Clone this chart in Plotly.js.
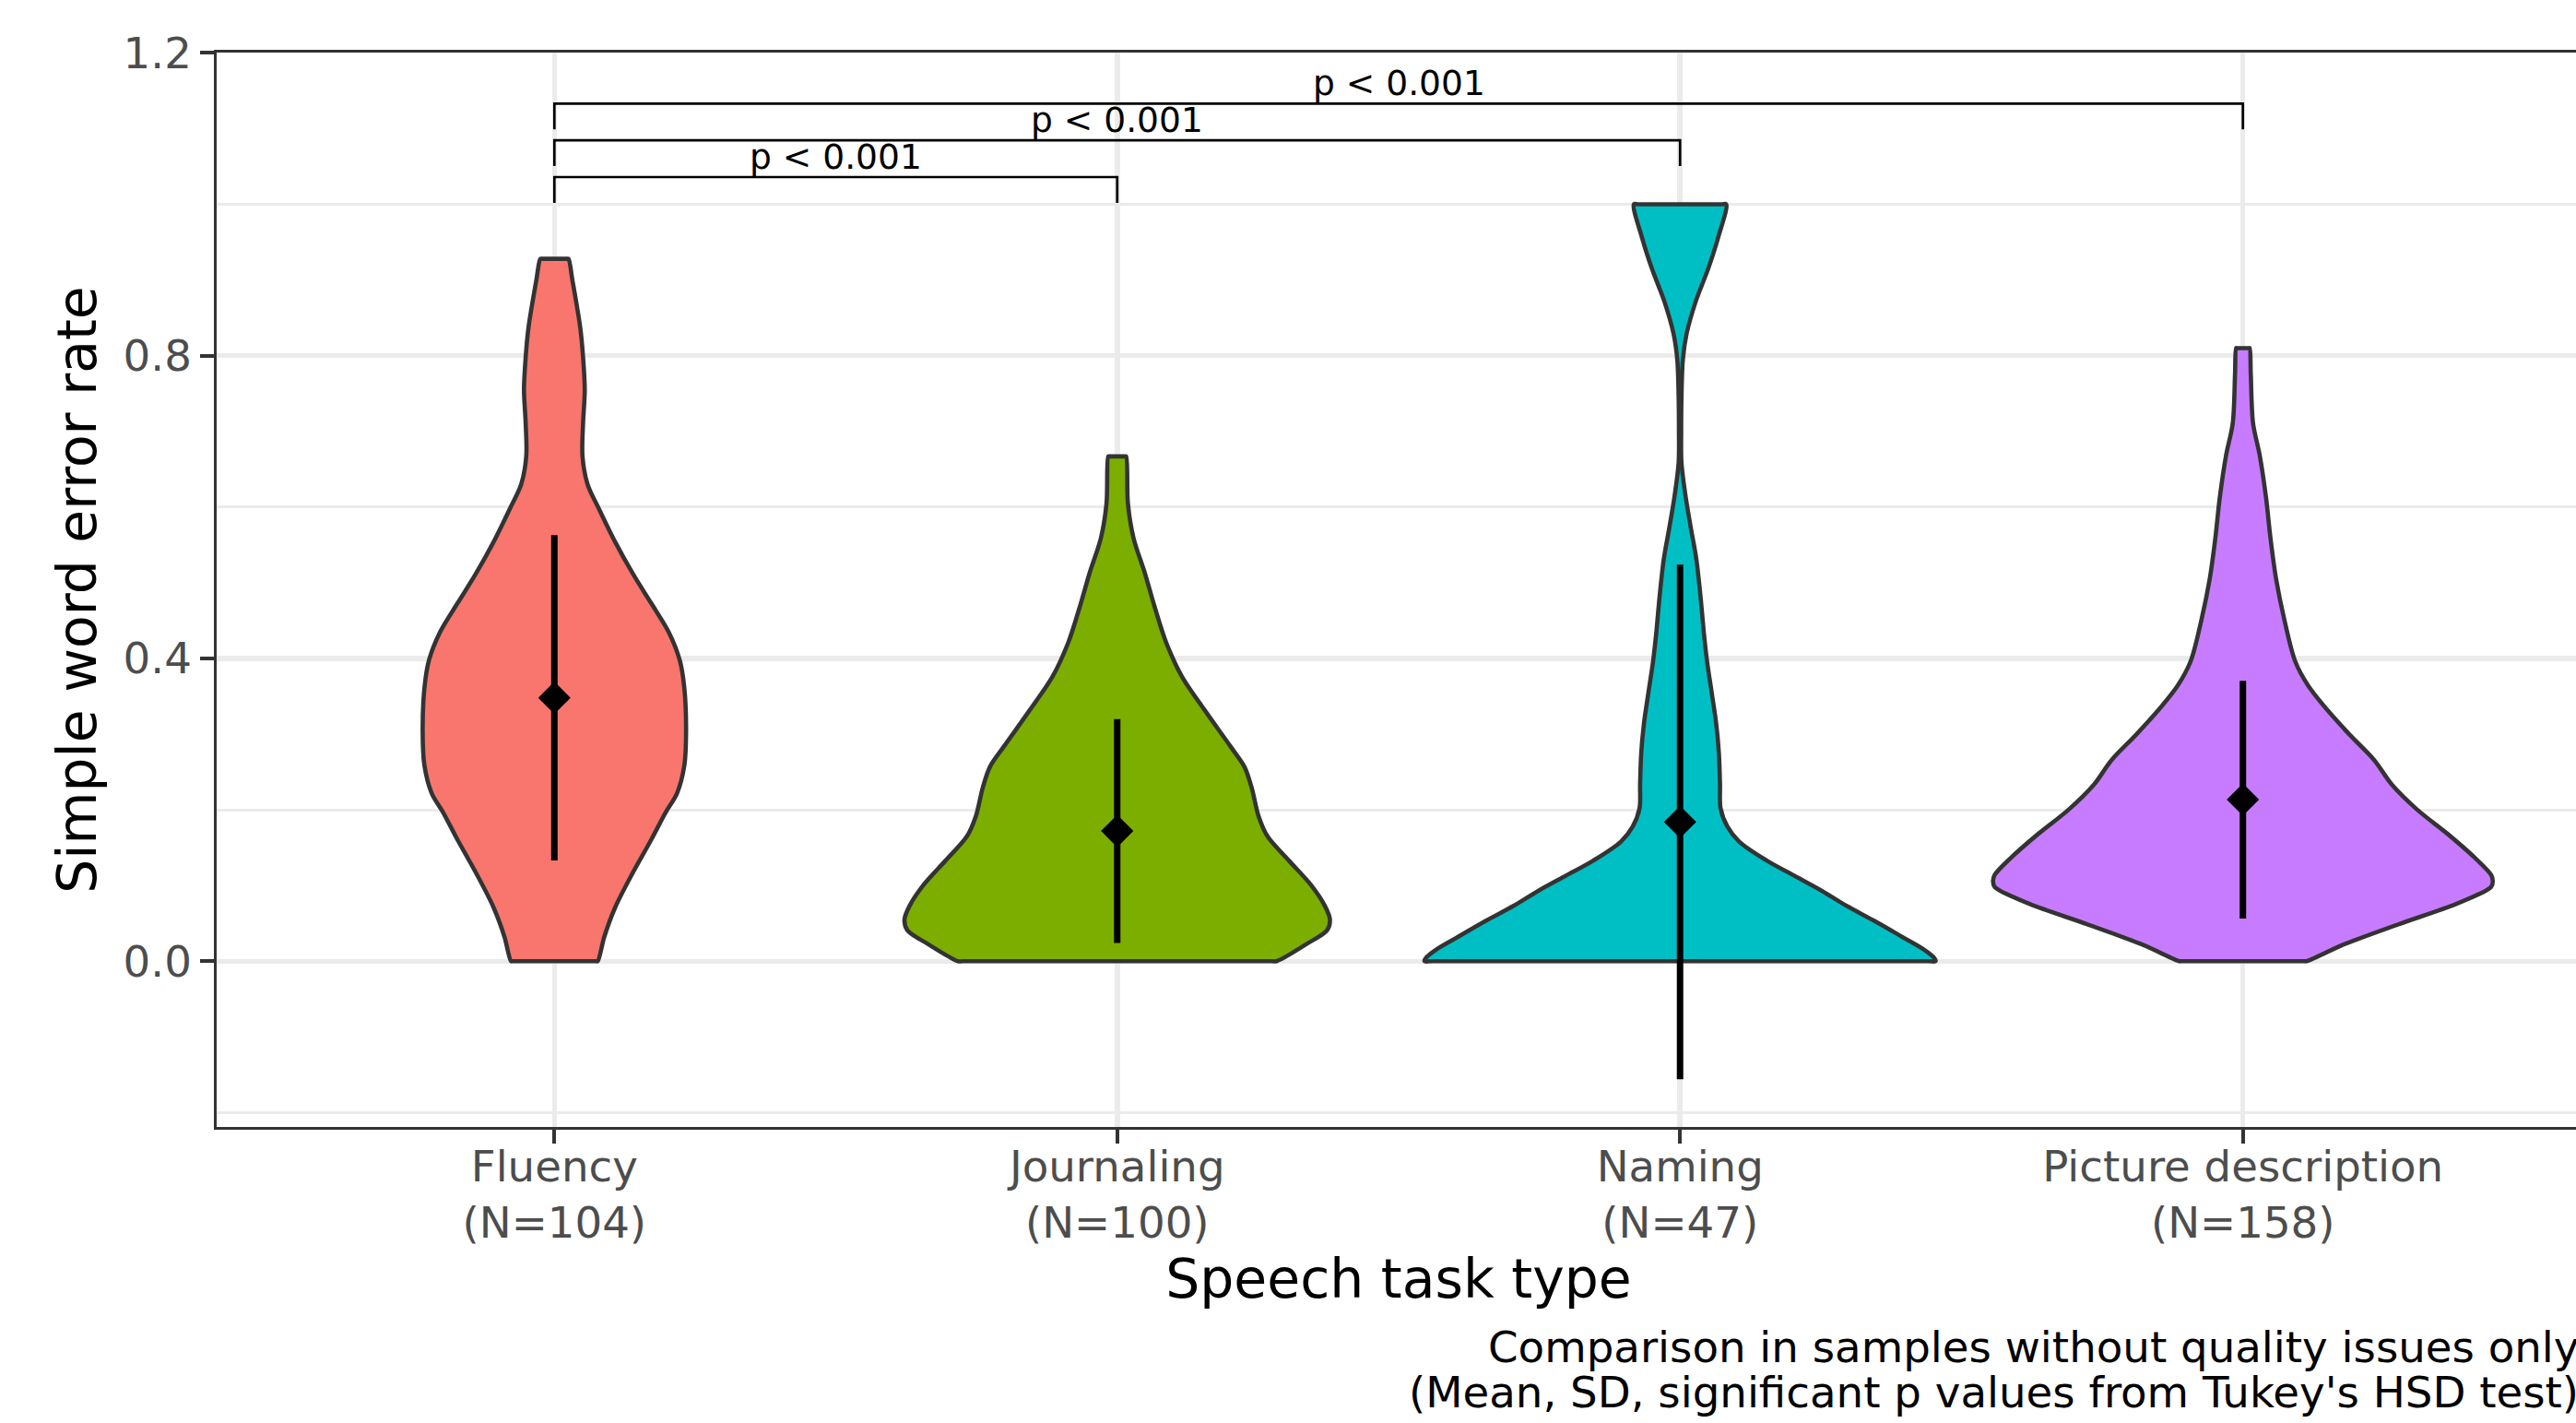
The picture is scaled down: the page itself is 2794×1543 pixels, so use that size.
<!DOCTYPE html>
<html>
<head>
<meta charset="utf-8">
<script src="https://cdn.plot.ly/plotly-3.0.1.min.js"></script>
<style>
html, body { margin: 0; padding: 0; overflow: hidden; background: #ffffff; width: 2794px; height: 1543px; }
#chart { width: 2810px; height: 1543px; }
</style>
</head>
<body>
<div id="chart"></div>
<script>
// ---------------- DATA ----------------
const categories = ['Fluency', 'Journaling', 'Naming', 'Picture description'];
const sampleSizes = [104, 100, 47, 158];
const means = [0.348, 0.172, 0.184, 0.2135];
const sds = [0.215, 0.148, 0.340, 0.157];

// violin density profiles: y level and half-width (in category units)
const fluencyY = [0.000, 0.033, 0.071, 0.115, 0.159, 0.197, 0.222, 0.259, 0.303, 0.360, 0.397, 0.435, 0.473, 0.510, 0.554, 0.598, 0.630, 0.667, 0.711, 0.755, 0.798, 0.837, 0.900, 0.928];
const fluencyHalfWidth = [0.077, 0.089, 0.108, 0.138, 0.171, 0.198, 0.218, 0.231, 0.234, 0.231, 0.223, 0.203, 0.172, 0.141, 0.108, 0.079, 0.059, 0.050, 0.051, 0.054, 0.051, 0.046, 0.032, 0.025];

const journalingY = [0.000, 0.023, 0.041, 0.055, 0.073, 0.101, 0.133, 0.165, 0.192, 0.229, 0.257, 0.284, 0.330, 0.376, 0.421, 0.467, 0.513, 0.559, 0.605, 0.667];
const journalingHalfWidth = [0.283, 0.337, 0.373, 0.378, 0.369, 0.344, 0.305, 0.267, 0.251, 0.239, 0.226, 0.201, 0.157, 0.115, 0.087, 0.067, 0.049, 0.029, 0.019, 0.016];

const namingY = [0.000, 0.004, 0.016, 0.032, 0.053, 0.073, 0.093, 0.113, 0.133, 0.158, 0.178, 0.202, 0.234, 0.275, 0.315, 0.356, 0.396, 0.436, 0.477, 0.531, 0.573, 0.616, 0.659, 0.700, 0.744, 0.795, 0.829, 0.872, 0.915, 0.957, 1.000];
const namingHalfWidth = [0.454, 0.452, 0.432, 0.395, 0.346, 0.296, 0.252, 0.203, 0.154, 0.105, 0.084, 0.072, 0.071, 0.069, 0.064, 0.056, 0.048, 0.042, 0.037, 0.029, 0.019, 0.0095, 0.0025, 0.002, 0.0025, 0.005, 0.0116, 0.028, 0.050, 0.068, 0.082];

const pictureY = [0.000, 0.022, 0.049, 0.076, 0.098, 0.106, 0.114, 0.136, 0.168, 0.200, 0.233, 0.266, 0.299, 0.331, 0.364, 0.396, 0.450, 0.505, 0.559, 0.613, 0.668, 0.711, 0.776, 0.810];
const pictureHalfWidth = [0.113, 0.179, 0.277, 0.380, 0.441, 0.444, 0.441, 0.413, 0.364, 0.310, 0.265, 0.233, 0.190, 0.151, 0.116, 0.093, 0.074, 0.059, 0.049, 0.041, 0.030, 0.018, 0.014, 0.012];

// significance brackets (Tukey's HSD)
const bracketFrom = ['Fluency', 'Fluency', 'Fluency'];
const bracketTo = ['Journaling', 'Naming', 'Picture description'];
const bracketY = [1.036, 1.0845, 1.133];
const bracketTipY = [1.002, 1.0505, 1.099];
const pLabels = ['p < 0.001', 'p < 0.001', 'p < 0.001'];

const xTitle = 'Speech task type';
const yTitle = 'Simple word error rate';
const captionLines = ['Comparison in samples without quality issues only', "(Mean, SD, significant p values from Tukey's HSD test)"];

// ---------------- STYLE ----------------
const fillColors = ['#F8766D', '#7CAE00', '#00BFC4', '#C77CFF'];
const FONT = 'DejaVu Sans, Liberation Sans, sans-serif';

const profiles = [
  [fluencyY, fluencyHalfWidth],
  [journalingY, journalingHalfWidth],
  [namingY, namingHalfWidth],
  [pictureY, pictureHalfWidth]
];

const traces = [];
profiles.forEach(function (p, i) {
  const ys = p[0], hw = p[1];
  const n = ys.length;
  const xs = [], yy = [];
  // bottom flat edge start (near corner) to keep corners crisp with spline
  xs.push(i + hw[0] * 0.97); yy.push(ys[0]);
  for (let k = 0; k < n; k++) { xs.push(i + hw[k]); yy.push(ys[k]); }
  // flat top edge
  xs.push(i + hw[n - 1] * 0.9); yy.push(ys[n - 1]);
  xs.push(i - hw[n - 1] * 0.9); yy.push(ys[n - 1]);
  for (let k = n - 1; k >= 0; k--) { xs.push(i - hw[k]); yy.push(ys[k]); }
  xs.push(i - hw[0] * 0.97); yy.push(ys[0]);
  xs.push(xs[0]); yy.push(yy[0]);
  traces.push({
    type: 'scatter', mode: 'lines', x: xs, y: yy,
    fill: 'toself', fillcolor: fillColors[i],
    line: { color: '#333333', width: 4.6, shape: 'spline', smoothing: 0.9 },
    hoverinfo: 'skip', showlegend: false
  });
});

traces.push({
  type: 'scatter', mode: 'markers',
  x: categories.map(function (c, i) { return i; }), y: means,
  marker: { symbol: 'diamond', size: 27, color: '#000000' },
  error_y: { type: 'data', array: sds, visible: true, thickness: 7, width: 0, color: '#000000' },
  hoverinfo: 'skip', showlegend: false
});

const annotations = [];
bracketFrom.forEach(function (f, j) {
  const a = categories.indexOf(f), b = categories.indexOf(bracketTo[j]);
  traces.push({
    type: 'scatter', mode: 'lines',
    x: [a, a, b, b], y: [bracketTipY[j], bracketY[j], bracketY[j], bracketTipY[j]],
    line: { color: '#000000', width: 2.7 },
    hoverinfo: 'skip', showlegend: false
  });
  annotations.push({
    x: (a + b) / 2, y: bracketY[j], xref: 'x', yref: 'y',
    text: pLabels[j], showarrow: false, xanchor: 'center', yanchor: 'bottom', yshift: -2,
    font: { family: FONT, size: 37.6, color: '#000000' }
  });
});

captionLines.forEach(function (t, j) {
  annotations.push({
    x: 1, y: [-0.2050, -0.2475][j], xref: 'paper', yref: 'paper',
    text: t, showarrow: false, xanchor: 'right', yanchor: 'middle',
    font: { family: FONT, size: 46.7, color: '#000000' }
  });
});

const layout = {
  width: 2810, height: 1543,
  margin: { l: 235, r: 11, t: 57, b: 321, pad: 0 },
  paper_bgcolor: '#ffffff', plot_bgcolor: '#ffffff',
  showlegend: false,
  font: { family: FONT },
  xaxis: {
    range: [-0.6, 3.6],
    tickmode: 'array',
    tickvals: categories.map(function (c, i) { return i; }),
    ticktext: categories.map(function (c, i) { return c + '<br>(N=' + sampleSizes[i] + ')'; }),
    tickfont: { family: FONT, size: 46.7, color: '#4D4D4D' },
    ticks: 'outside', ticklen: 15, tickwidth: 4, tickcolor: '#333333',
    ticklabelstandoff: -15,
    showgrid: true, gridcolor: '#EBEBEB', gridwidth: 5.5,
    zeroline: false,
    showline: true, mirror: true, linecolor: '#333333', linewidth: 2.8,
    title: { text: xTitle, font: { family: FONT, size: 58.4, color: '#000000' }, standoff: 1 }
  },
  yaxis: {
    range: [-0.219, 1.2005],
    tickmode: 'linear', tick0: 0, dtick: 0.4, tickformat: '.1f',
    tickfont: { family: FONT, size: 46.7, color: '#4D4D4D' },
    ticks: 'outside', ticklen: 15, tickwidth: 4, tickcolor: '#333333',
    showgrid: true, gridcolor: '#EBEBEB', gridwidth: 5.5,
    minor: { tick0: 0, dtick: 0.2, showgrid: true, gridcolor: '#EBEBEB', gridwidth: 2.8, ticks: '' },
    zeroline: false,
    showline: true, mirror: true, linecolor: '#333333', linewidth: 2.8,
    title: { text: yTitle, font: { family: FONT, size: 58.4, color: '#000000' }, standoff: 11 }
  },
  annotations: annotations
};

Plotly.newPlot('chart', traces, layout, { staticPlot: true, displayModeBar: false });
</script>
</body>
</html>
